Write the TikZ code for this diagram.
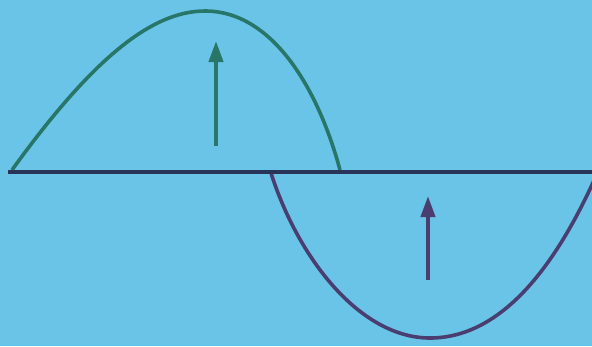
\documentclass[tikz,border=0pt]{standalone}
\usetikzlibrary{arrows.meta}
\definecolor{bg}{RGB}{106,196,232}
\definecolor{axis}{RGB}{40,52,88}
\definecolor{wgreen}{RGB}{40,118,104}
\definecolor{wpurple}{RGB}{74,62,112}
\tikzset{
  wave/.style={line width=3.6pt},
  vec/.style={line width=4pt,-{Triangle[length=21pt,width=14pt]}},
}
\begin{document}
\begin{tikzpicture}[x=1pt,y=-1pt]
\fill[bg] (0,0) rectangle (592,346);
\useasboundingbox (0,0) rectangle (592,346);
\begin{scope}
\clip (0,0) rectangle (592,346);
\coordinate (gs) at (12,170);
\coordinate (gp) at (205,11);
\coordinate (ge) at (340,170);
\draw[wave,wgreen] (gs) .. controls (90,62) and (150,11) .. (gp) .. controls (272,11) and (318,88) .. (ge);
\coordinate (ps) at (271,173);
\coordinate (pb) at (430,338);
\coordinate (pe) at (596,176);
\draw[wave,wpurple] (ps) .. controls (298,258) and (360,338) .. (pb) .. controls (508,338) and (562,252) .. (pe);
\coordinate (al) at (8,172);
\coordinate (ar) at (592,172);
\draw[line width=4.6pt,axis] (al) -- (ar);
\coordinate (g1) at (216,146);
\coordinate (g2) at (216,41);
\draw[vec,wgreen] (g1) -- (g2);
\coordinate (p1) at (428,280);
\coordinate (p2) at (428,196);
\draw[vec,wpurple] (p1) -- (p2);
\end{scope}
\end{tikzpicture}
\end{document}
